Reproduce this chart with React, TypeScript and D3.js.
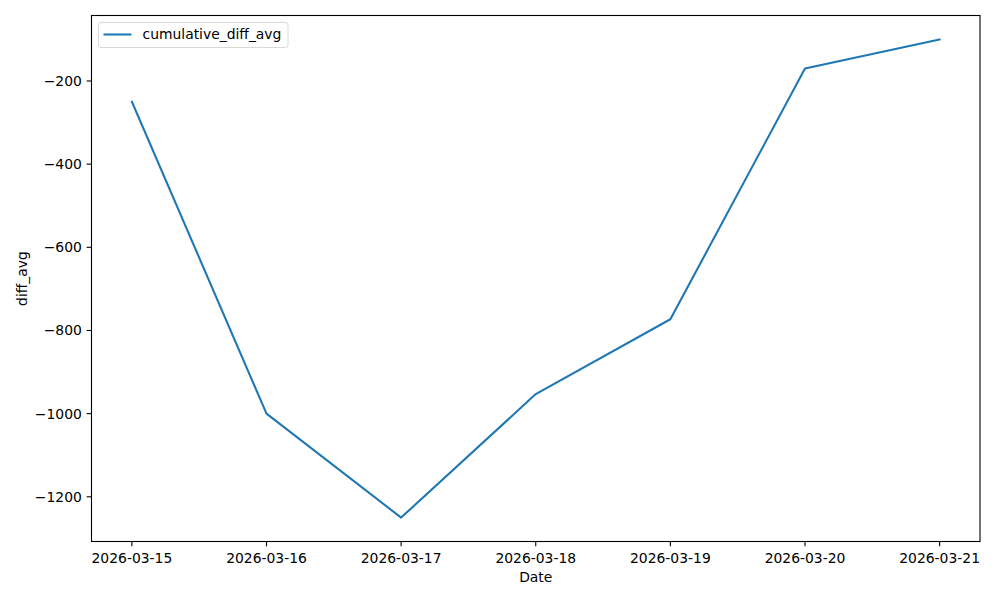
import React from "react";
import * as d3 from "d3";

const dates = ["2026-03-15", "2026-03-16", "2026-03-17", "2026-03-18", "2026-03-19", "2026-03-20", "2026-03-21"];
const values = [-250, -1000, -1250, -953, -773, -170, -100];
const yTicks = [-1200, -1000, -800, -600, -400, -200];
const seriesName = "cumulative_diff_avg";

export default function App() {
  const W = 1000, H = 600;
  const m = { left: 91.5, right: 980, top: 15.5, bottom: 541.5 };
  const parse = d3.utcParse("%Y-%m-%d");
  const pts = dates.map((d, i) => ({ x: parse(d) as Date, y: values[i] }));
  const xExt = d3.extent(pts, (p) => p.x) as [Date, Date];
  const span = +xExt[1] - +xExt[0];
  const x = d3.scaleUtc()
    .domain([new Date(+xExt[0] - span * 0.05), new Date(+xExt[1] + span * 0.05)])
    .range([m.left, m.right]);
  const yMin = d3.min(values)!, yMax = d3.max(values)!;
  const yPad = (yMax - yMin) * 0.05;
  const y = d3.scaleLinear().domain([yMin - yPad, yMax + yPad]).range([m.bottom, m.top]);
  const line = d3.line<{ x: Date; y: number }>().x((p) => x(p.x)).y((p) => y(p.y));
  const font = "DejaVu Sans, sans-serif";
  const fs = 13.9;
  const fmt = (v: number) => (v < 0 ? "\u2212" + Math.abs(v) : String(v));
  const color = "#1f77b4";
  return (
    <svg width={W} height={H} style={{ position: "absolute", left: 0, top: 0, background: "#fff" }} fontFamily={font}>
      <rect x={0} y={0} width={W} height={H} fill="#fff" />
      <path d={line(pts) || ""} fill="none" stroke={color} strokeWidth={2.08} strokeLinejoin="round" strokeLinecap="square" />
      <rect x={m.left} y={m.top} width={m.right - m.left} height={m.bottom - m.top} fill="none" stroke="#000" strokeWidth={1.1} />
      {pts.map((p, i) => (
        <g key={i} transform={`translate(${x(p.x)},${m.bottom})`}>
          <line y1={0} y2={4.86} stroke="#000" strokeWidth={1.1} />
          <text y={21.5} textAnchor="middle" fontSize={fs} fill="#000">{dates[i]}</text>
        </g>
      ))}
      {yTicks.map((t) => (
        <g key={t} transform={`translate(${m.left},${y(t)})`}>
          <line x1={0} x2={-4.86} stroke="#000" strokeWidth={1.1} />
          <text x={-9.7} dy="0.35em" textAnchor="end" fontSize={fs} fill="#000">{fmt(t)}</text>
        </g>
      ))}
      <text x={(m.left + m.right) / 2} y={582} textAnchor="middle" fontSize={fs} fill="#000">Date</text>
      <text transform={`translate(27,${(m.top + m.bottom) / 2}) rotate(-90)`} textAnchor="middle" fontSize={fs} fill="#000">diff_avg</text>
      <g>
        <rect x={98.5} y={22.5} width={189.5} height={25} rx={2.5} fill="#fff" fillOpacity={0.8} stroke="#d9d9d9" strokeWidth={1} />
        <line x1={103.5} x2={131.5} y1={34.5} y2={34.5} stroke={color} strokeWidth={2.08} />
        <text x={142.5} y={34.5} dy="0.35em" fontSize={fs} fill="#000">{seriesName}</text>
      </g>
    </svg>
  );
}
